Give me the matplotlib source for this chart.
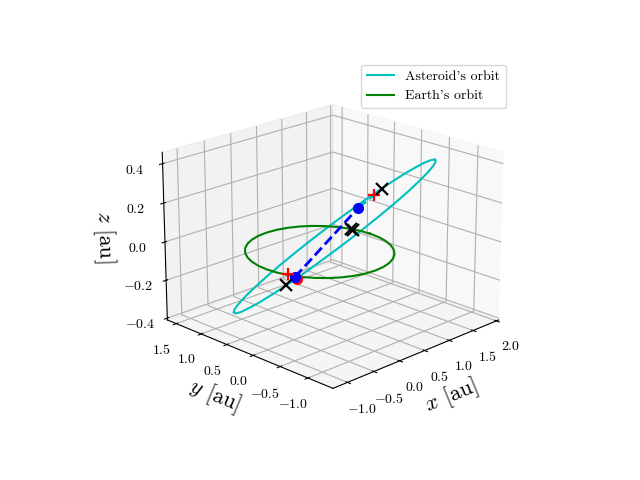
import matplotlib
matplotlib.use("Agg")
import matplotlib.pyplot as plt

plt.rcParams["font.family"] = "cmr10"
plt.rcParams["mathtext.fontset"] = "cm"
plt.rcParams["axes.formatter.use_mathtext"] = True

# asteroid orbit
ast_x = [1.85, 1.948, 1.996, 1.992, 1.937, 1.833, 1.681, 1.488, 1.259, 1.0, 0.72, 0.428, 0.131, -0.16, -0.437, -0.692, -0.917, -1.105, -1.25, -1.348, -1.396, -1.392, -1.337, -1.233, -1.081, -0.888, -0.659, -0.4, -0.12, 0.172, 0.469, 0.76, 1.037, 1.292, 1.517, 1.705, 1.85]
ast_y = [-0.42, -0.275, -0.122, 0.034, 0.188, 0.336, 0.473, 0.595, 0.698, 0.78, 0.837, 0.869, 0.873, 0.85, 0.801, 0.726, 0.629, 0.513, 0.38, 0.235, 0.082, -0.074, -0.228, -0.376, -0.513, -0.635, -0.738, -0.82, -0.877, -0.909, -0.913, -0.89, -0.841, -0.766, -0.669, -0.553, -0.42]
ast_z = [0.35, 0.329, 0.3, 0.263, 0.221, 0.173, 0.122, 0.069, 0.015, -0.037, -0.086, -0.131, -0.17, -0.202, -0.227, -0.242, -0.249, -0.246, -0.234, -0.213, -0.184, -0.147, -0.105, -0.057, -0.006, 0.047, 0.101, 0.153, 0.202, 0.247, 0.286, 0.318, 0.343, 0.358, 0.365, 0.362, 0.35]

# earth orbit
earth_x = [1.0, 0.985, 0.94, 0.866, 0.766, 0.643, 0.5, 0.342, 0.174, 0.0, -0.174, -0.342, -0.5, -0.643, -0.766, -0.866, -0.94, -0.985, -1.0, -0.985, -0.94, -0.866, -0.766, -0.643, -0.5, -0.342, -0.174, -0.0, 0.174, 0.342, 0.5, 0.643, 0.766, 0.866, 0.94, 0.985, 1.0]
earth_y = [0.0, 0.174, 0.342, 0.5, 0.643, 0.766, 0.866, 0.94, 0.985, 1.0, 0.985, 0.94, 0.866, 0.766, 0.643, 0.5, 0.342, 0.174, 0.0, -0.174, -0.342, -0.5, -0.643, -0.766, -0.866, -0.94, -0.985, -1.0, -0.985, -0.94, -0.866, -0.766, -0.643, -0.5, -0.342, -0.174, 0.0]
earth_z = [0.0] * 37

# marks
plus_x = [-0.649, 1.523]
plus_y = [-0.043, 0.401]
plus_z = [-0.052, 0.121]
cross_x = [-1.238, 0.066, -0.065, 1.639]
cross_y = [-0.587, -0.509, -0.665, 0.356]
cross_z = [0.004, 0.155, 0.176, 0.147]
red_x, red_y, red_z = [-1.223], [-0.77], [0.051]
blue_x = [-1.048, 1.22]
blue_y = [-0.562, 0.424]
blue_z = [0.023, 0.076]

x_ticks = [-1.0, -0.5, 0.0, 0.5, 1.0, 1.5, 2.0]
y_ticks = [-1.0, -0.5, 0.0, 0.5, 1.0, 1.5]
z_ticks = [-0.4, -0.2, 0.0, 0.2, 0.4]

fig = plt.figure(figsize=(6.4, 4.8))
ax = fig.add_subplot(projection="3d", computed_zorder=False)
ax.view_init(elev=20, azim=-135)

ax.plot(ast_x, ast_y, ast_z, "c", label="Asteroid's orbit")
ax.plot(earth_x, earth_y, earth_z, "g", label="Earth's orbit")

ax.plot(red_x, red_y, red_z, "ro", ms=7)
ax.plot(blue_x, blue_y, blue_z, "b--", lw=2)
ax.plot([blue_x[1], plus_x[1]], [blue_y[1], plus_y[1]], [blue_z[1], plus_z[1]], "c--", lw=2)
ax.plot(blue_x, blue_y, blue_z, "bo", ms=7)
ax.plot(plus_x, plus_y, plus_z, "r+", ms=8, mew=1.6)
ax.plot(cross_x, cross_y, cross_z, "kx", ms=8, mew=1.6)

ax.set_xlim(-1.27, 2.05)
ax.set_ylim(-1.44, 1.68)
ax.set_zlim(-.41, .457)
ax.set_xticks(x_ticks)
ax.set_yticks(y_ticks)
ax.set_zticks(z_ticks)
ax.set_xlabel(r"$x$ [au]", fontsize=16)
ax.set_ylabel(r"$y$ [au]", fontsize=16)
ax.set_zlabel(r"$z$ [au]", fontsize=16)
ax.legend()

fig.savefig("out.png", dpi=100)
